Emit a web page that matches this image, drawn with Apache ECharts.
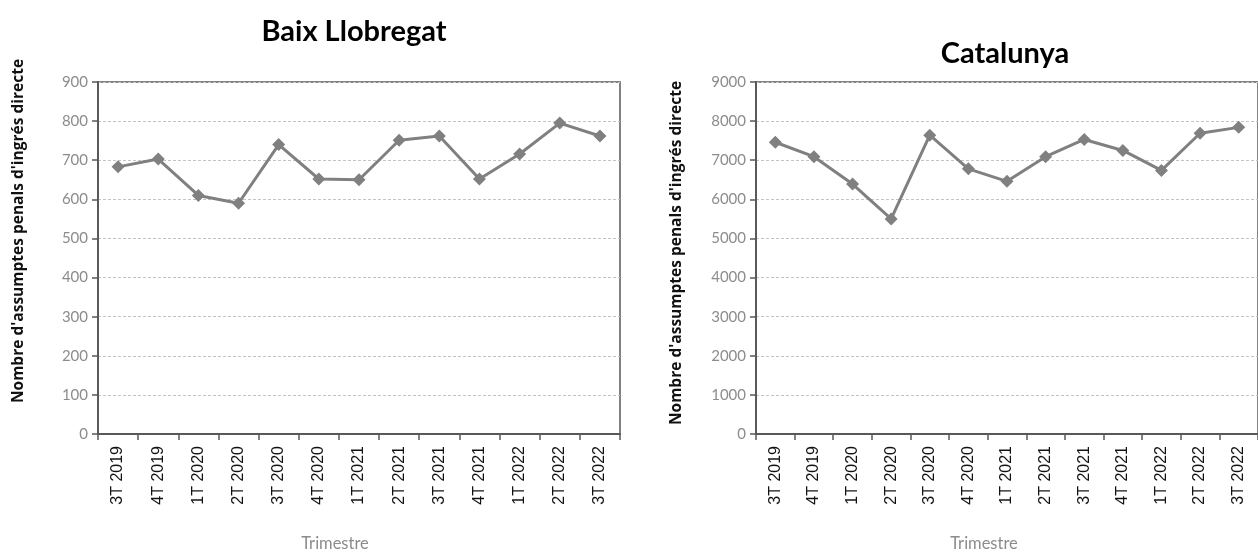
<!DOCTYPE html>
<html>
<head>
<meta charset="utf-8">
<script src="https://cdn.jsdelivr.net/npm/echarts@6/dist/echarts.min.js"></script>
<style>
  html, body { margin: 0; padding: 0; background: #fff; }
  #main { width: 1258px; height: 552px; }
</style>
</head>
<body>
<div id="main"></div>
<script>
// trimestres
const categories = ["3T 2019", "4T 2019", "1T 2020", "2T 2020", "3T 2020", "4T 2020", "1T 2021",
  "2T 2021", "3T 2021", "4T 2021", "1T 2022", "2T 2022", "3T 2022"];
const baixLlobregat = [683, 703, 610, 590, 740, 652, 650, 751, 762, 652, 716, 795, 762];
const catalunya = [7460, 7090, 6390, 5500, 7640, 6780, 6460, 7090, 7530, 7250, 6740, 7690, 7840];
const yTitle = "Nombre d'assumptes penals d'ingrés directe";
const xTitle = "Trimestre";

const gray = "#808080";
const axisColor = "#595959";

function xAxisFor(idx) {
  return {
    type: "category",
    gridIndex: idx,
    data: categories,
    boundaryGap: true,
    axisLine: { lineStyle: { color: axisColor, width: 2 } },
    axisTick: { show: true, length: 6, lineStyle: { color: axisColor, width: 1.5 } },
    axisLabel: { rotate: 90, color: "#111", fontFamily: "Liberation Sans", fontSize: 16, margin: 12 },
  };
}

function yAxisFor(idx, max, interval) {
  return {
    type: "value",
    gridIndex: idx,
    min: 0,
    max: max,
    interval: interval,
    axisLine: { show: true, lineStyle: { color: axisColor, width: 2 } },
    axisTick: { show: true, length: 6, lineStyle: { color: axisColor, width: 1.5 } },
    axisLabel: {
      color: "#8c8c8c", fontFamily: "Lato", fontSize: 15, margin: 10,
      formatter: (v) => String(v),
    },
    splitLine: { lineStyle: { color: "#c4c4c4", type: [3, 2], width: 1 } },
  };
}

function lineFor(idx, data) {
  return {
    type: "line",
    xAxisIndex: idx,
    yAxisIndex: idx,
    data: data,
    symbol: "diamond",
    symbolSize: 13,
    lineStyle: { color: gray, width: 3 },
    itemStyle: { color: gray },
  };
}

// textes d'eixos (noms) com a elements grafics
function yName(x, y) {
  return {
    type: "text", x: x, y: y, rotation: Math.PI / 2,
    style: {
      text: yTitle, align: "center", verticalAlign: "middle",
      font: "bold 15.5px 'Open Sans'", fill: "#111",
    },
  };
}
function xName(x, y) {
  return {
    type: "text", x: x, y: y,
    style: {
      text: xTitle, align: "center", verticalAlign: "middle",
      font: "16.5px Lato", fill: "#8c8c8c",
    },
  };
}

const option = {
  animation: false,
  title: [
    { text: "Baix Llobregat", left: 349, top: 12, textAlign: "center",
      textStyle: { fontFamily: "Lato", fontWeight: "bold", fontSize: 29, color: "#000" } },
    { text: "Catalunya", left: 1000, top: 34, textAlign: "center",
      textStyle: { fontFamily: "Lato", fontWeight: "bold", fontSize: 29, color: "#000" } },
  ],
  grid: [
    { left: 98, top: 82, width: 522, height: 352, show: true, borderColor: axisColor, borderWidth: 1.5 },
    { left: 756, top: 82, width: 512, height: 352, show: true, borderColor: axisColor, borderWidth: 1.5 },
  ],
  xAxis: [xAxisFor(0), xAxisFor(1)],
  yAxis: [yAxisFor(0, 900, 100), yAxisFor(1, 9000, 1000)],
  series: [lineFor(0, baixLlobregat), lineFor(1, catalunya)],
  graphic: [
    yName(19, 231), yName(677, 253),
    xName(335, 544), xName(984, 544),
  ],
};

const myChart = echarts.init(document.getElementById("main"));
myChart.setOption(option);
</script>
</body>
</html>
